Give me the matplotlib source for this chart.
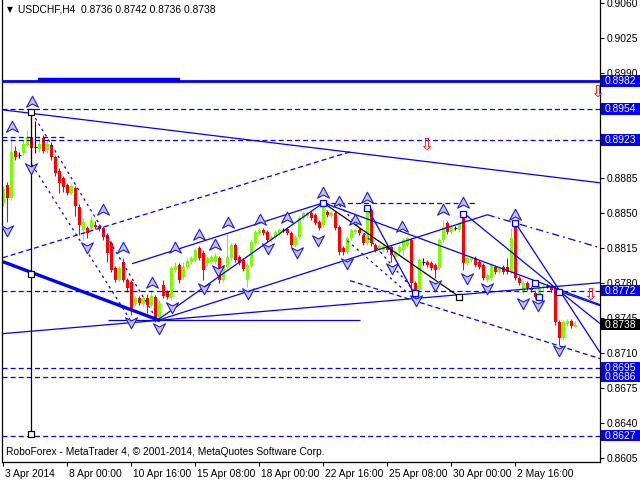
import matplotlib
matplotlib.use('Agg')
import matplotlib.pyplot as plt
from matplotlib.path import Path
from matplotlib.patches import Rectangle
from matplotlib.transforms import blended_transform_factory, ScaledTranslation

plt.rcParams['font.family'] = ['Liberation Sans', 'DejaVu Sans']

# ---------------- data (USDCHF H4, bars from 3 Apr 2014 08:00) ----------------
opens = [0.8860, 0.8878, 0.8865, 0.8912, 0.8908, 0.8910, 0.8918, 0.8926, 0.8916, 0.8914,
         0.8925, 0.8913, 0.8918, 0.8906, 0.8892, 0.8885, 0.8878, 0.8870, 0.8875, 0.8856,
         0.8833, 0.8835, 0.8835, 0.8838, 0.8837, 0.8835, 0.8828, 0.8820, 0.8795, 0.8783,
         0.8801, 0.8783, 0.8781, 0.8759, 0.8765, 0.8759, 0.8765, 0.8758, 0.8766, 0.8745,
         0.8778, 0.8771, 0.8765, 0.8793, 0.8798, 0.8786, 0.8796, 0.8801, 0.8803, 0.8815,
         0.8810, 0.8800, 0.8801, 0.8801, 0.8805, 0.8783, 0.8796, 0.8805, 0.8818, 0.8806,
         0.8803, 0.8783, 0.8798, 0.8820, 0.8830, 0.8833, 0.8831, 0.8823, 0.8826, 0.8830,
         0.8833, 0.8834, 0.8830, 0.8818, 0.8826, 0.8845, 0.8847, 0.8850, 0.8848, 0.8841,
         0.8838, 0.8851, 0.8847, 0.8850, 0.8836, 0.8815, 0.8811, 0.8825, 0.8831, 0.8833,
         0.8828, 0.8820, 0.8853, 0.8818, 0.8813, 0.8813, 0.8817, 0.8816, 0.8806, 0.8811,
         0.8813, 0.8818, 0.8823, 0.8780, 0.8773, 0.8801, 0.8801, 0.8800, 0.8798, 0.8795,
         0.8823, 0.8840, 0.8831, 0.8835, 0.8833, 0.8848, 0.8800, 0.8803, 0.8805, 0.8801,
         0.8798, 0.8783, 0.8785, 0.8796, 0.8791, 0.8796, 0.8796, 0.8791, 0.8838, 0.8785,
         0.8771, 0.8780, 0.8775, 0.8770, 0.8765, 0.8775, 0.8777, 0.8777, 0.8775, 0.8741,
         0.8725, 0.8739, 0.8742, 0.8736]
highs = [0.8877, 0.8881, 0.8925, 0.8917, 0.8911, 0.8923, 0.8933, 0.8952, 0.8942, 0.8925,
         0.8928, 0.8923, 0.8921, 0.8908, 0.8895, 0.8887, 0.8880, 0.8879, 0.8877, 0.8859,
         0.8845, 0.8837, 0.8847, 0.8842, 0.8839, 0.8837, 0.8830, 0.8822, 0.8797, 0.8797,
         0.8805, 0.8785, 0.8783, 0.8767, 0.8767, 0.8767, 0.8769, 0.8773, 0.8768, 0.8763,
         0.8783, 0.8773, 0.8797, 0.8801, 0.8800, 0.8801, 0.8805, 0.8807, 0.8815, 0.8817,
         0.8813, 0.8807, 0.8808, 0.8810, 0.8807, 0.8798, 0.8830, 0.8820, 0.8820, 0.8808,
         0.8805, 0.8800, 0.8823, 0.8833, 0.8835, 0.8835, 0.8833, 0.8828, 0.8833, 0.8835,
         0.8835, 0.8836, 0.8832, 0.8828, 0.8847, 0.8852, 0.8852, 0.8852, 0.8850, 0.8843,
         0.8860, 0.8853, 0.8852, 0.8852, 0.8838, 0.8817, 0.8827, 0.8835, 0.8835, 0.8835,
         0.8830, 0.8856, 0.8855, 0.8820, 0.8819, 0.8819, 0.8819, 0.8818, 0.8813, 0.8818,
         0.8825, 0.8827, 0.8825, 0.8782, 0.8805, 0.8805, 0.8803, 0.8802, 0.8800, 0.8825,
         0.8843, 0.8842, 0.8838, 0.8837, 0.8842, 0.8850, 0.8807, 0.8807, 0.8807, 0.8803,
         0.8800, 0.8790, 0.8800, 0.8798, 0.8797, 0.8798, 0.8805, 0.8835, 0.8840, 0.8787,
         0.8782, 0.8782, 0.8777, 0.8772, 0.8778, 0.8779, 0.8779, 0.8779, 0.8778, 0.8743,
         0.8743, 0.8744, 0.8744, 0.8742]
lows = [0.8857, 0.8841, 0.8863, 0.8903, 0.8905, 0.8908, 0.8916, 0.8898, 0.8910, 0.8911,
        0.8910, 0.8910, 0.8903, 0.8887, 0.8870, 0.8871, 0.8868, 0.8868, 0.8847, 0.8828,
        0.8823, 0.8825, 0.8833, 0.8834, 0.8832, 0.8823, 0.8801, 0.8791, 0.8781, 0.8781,
        0.8781, 0.8771, 0.8748, 0.8757, 0.8758, 0.8757, 0.8750, 0.8756, 0.8741, 0.8742,
        0.8765, 0.8764, 0.8763, 0.8791, 0.8780, 0.8784, 0.8794, 0.8799, 0.8801, 0.8803,
        0.8783, 0.8797, 0.8799, 0.8799, 0.8780, 0.8781, 0.8794, 0.8803, 0.8801, 0.8798,
        0.8792, 0.8776, 0.8796, 0.8818, 0.8828, 0.8828, 0.8821, 0.8821, 0.8824, 0.8828,
        0.8831, 0.8828, 0.8816, 0.8816, 0.8824, 0.8843, 0.8845, 0.8843, 0.8838, 0.8833,
        0.8836, 0.8846, 0.8845, 0.8833, 0.8808, 0.8808, 0.8809, 0.8823, 0.8829, 0.8828,
        0.8818, 0.8818, 0.8817, 0.8811, 0.8811, 0.8811, 0.8811, 0.8801, 0.8804, 0.8809,
        0.8808, 0.8816, 0.8773, 0.8765, 0.8771, 0.8798, 0.8796, 0.8793, 0.8785, 0.8793,
        0.8821, 0.8829, 0.8829, 0.8833, 0.8831, 0.8793, 0.8798, 0.8801, 0.8796, 0.8794,
        0.8783, 0.8781, 0.8783, 0.8789, 0.8789, 0.8789, 0.8789, 0.8789, 0.8783, 0.8778,
        0.8769, 0.8773, 0.8771, 0.8764, 0.8763, 0.8773, 0.8775, 0.8771, 0.8738, 0.8718,
        0.8723, 0.8737, 0.8735, 0.8736]
closes = [0.8874, 0.8865, 0.8911, 0.8906, 0.8908, 0.8919, 0.8926, 0.8915, 0.8916, 0.8919,
          0.8912, 0.8919, 0.8906, 0.8890, 0.8880, 0.8876, 0.8870, 0.8877, 0.8857, 0.8838,
          0.8841, 0.8830, 0.8843, 0.8836, 0.8835, 0.8826, 0.8810, 0.8793, 0.8783, 0.8795,
          0.8783, 0.8775, 0.8753, 0.8765, 0.8760, 0.8765, 0.8758, 0.8767, 0.8745, 0.8760,
          0.8767, 0.8766, 0.8795, 0.8797, 0.8783, 0.8796, 0.8802, 0.8805, 0.8813, 0.8805,
          0.8793, 0.8805, 0.8806, 0.8807, 0.8783, 0.8796, 0.8806, 0.8818, 0.8803, 0.8800,
          0.8794, 0.8798, 0.8821, 0.8831, 0.8833, 0.8830, 0.8823, 0.8826, 0.8831, 0.8833,
          0.8833, 0.8830, 0.8818, 0.8826, 0.8845, 0.8850, 0.8850, 0.8845, 0.8840, 0.8835,
          0.8858, 0.8848, 0.8850, 0.8835, 0.8811, 0.8811, 0.8825, 0.8833, 0.8833, 0.8830,
          0.8820, 0.8853, 0.8820, 0.8813, 0.8817, 0.8817, 0.8813, 0.8808, 0.8811, 0.8816,
          0.8823, 0.8825, 0.8780, 0.8768, 0.8803, 0.8801, 0.8798, 0.8795, 0.8793, 0.8823,
          0.8836, 0.8831, 0.8836, 0.8835, 0.8840, 0.8800, 0.8805, 0.8805, 0.8798, 0.8796,
          0.8785, 0.8788, 0.8798, 0.8791, 0.8795, 0.8791, 0.8791, 0.8825, 0.8785, 0.8780,
          0.8780, 0.8775, 0.8773, 0.8766, 0.8776, 0.8777, 0.8777, 0.8773, 0.8741, 0.8725,
          0.8741, 0.8742, 0.8737, 0.8738]

x_tick_bars = [0, 16, 32, 48, 64, 80, 96, 112, 128]
x_tick_labels = ['3 Apr 2014', '8 Apr 00:00', '10 Apr 16:00', '15 Apr 08:00', '18 Apr 00:00',
                 '22 Apr 16:00', '25 Apr 08:00', '30 Apr 00:00', '2 May 16:00']
y_ticks = [0.9060, 0.9025, 0.8990, 0.8955, 0.8920, 0.8885, 0.8850, 0.8815, 0.8780,
           0.8745, 0.8710, 0.8675, 0.8640, 0.8605]
y_tick_labels = ['0.9060', '0.9025', '0.8990', '', '', '0.8885', '0.8850', '0.8815', '0.8780',
                 '0.8745', '0.8710', '0.8675', '0.8640', '0.8605']
level_prices = [0.8982, 0.8954, 0.8923, 0.8772, 0.8695, 0.8686, 0.8627]
dashed_levels = [0.8954, 0.8923, 0.8772, 0.8695, 0.8686, 0.8627]
thick_level = 0.8982
last_price = 0.8738
header = 'USDCHF,H4  0.8736 0.8742 0.8736 0.8738'
footer = 'RoboForex - MetaTrader 4, \u00a9 2001-2014, MetaQuotes Software Corp.'

# trend line anchors (bar index, price)
lines_solid = [(-0.1, 0.8953, 149.2, 0.8880), (32.2, 0.8799, 80, 0.8860),
               (38.7, 0.8743, 80, 0.8860), (39.2, 0.8743, 121, 0.8848),
               (-0.1, 0.8729, 149.2, 0.8780), (80, 0.8860, 149.2, 0.8758),
               (91, 0.8855, 103, 0.8767), (115, 0.8850, 139.2, 0.8771),
               (128, 0.8840, 149.2, 0.8710), (139.2, 0.8771, 149.2, 0.8757),
               (139.2, 0.8771, 149.2, 0.8739), (26.2, 0.8743, 89.2, 0.8743)]
lines_thick = [(-0.1, 0.8801, 39.2, 0.8742)]
lines_dashed = [(-0.1, 0.8805, 86.7, 0.8911), (80, 0.8860, 118.4, 0.8860),
                (86.7, 0.8782, 149.2, 0.8704), (-0.3, 0.8926, 16, 0.8926)]
lines_dotted = [(7.2, 0.8950, 38.7, 0.8741), (7.2, 0.8898, 31.7, 0.8743),
                (84, 0.8858, 104, 0.8766), (86, 0.8822, 101, 0.8770)]
lines_dashdot = [(121, 0.8848, 149.2, 0.8815)]
lines_black = [(80, 0.8860, 114, 0.8766), (7, 0.8952, 7, 0.8629)]

up_arrows = [(7.2, 0.8961), (2.2, 0.8936), (24.9, 0.8853), (29.9, 0.8815), (37.2, 0.8780),
             (42.9, 0.8815), (48.9, 0.8828), (52.9, 0.8818), (56.2, 0.8840), (64.2, 0.8843),
             (70.9, 0.8845), (79.9, 0.8870), (83.9, 0.8861), (87.9, 0.8843), (90.9, 0.8865),
             (99.7, 0.8836), (109.9, 0.8853), (114.9, 0.8860), (127.9, 0.8848)]
down_arrows = [(0.9, 0.8833), (6.9, 0.8895), (20.9, 0.8816), (31.9, 0.8741), (38.9, 0.8735),
               (42.2, 0.8756), (50.2, 0.8775), (53.7, 0.8793), (61.2, 0.8770), (66.2, 0.8815),
               (73.4, 0.8811), (78.7, 0.8823), (85.9, 0.8800), (97.2, 0.8795), (103.2, 0.8763),
               (107.9, 0.8778), (115.9, 0.8785), (120.9, 0.8775), (129.9, 0.8760),
               (133.7, 0.8758), (138.9, 0.8713)]
red_arrows = [(105.7, 0.8918), (148.4, 0.8971), (146.7, 0.8768)]
blue_squares = [(80, 0.8860), (91, 0.8855), (103, 0.8770), (115, 0.8849), (128, 0.8840),
                (132.9, 0.8780), (133.9, 0.8766), (138.9, 0.8771)]
black_squares = [(7, 0.8951), (7, 0.8789), (7, 0.8629), (114, 0.8766)]

# ---------------- drawing ----------------
BLUE = '#0000ff'
GREEN = '#7cfc00'
RED = '#ff0000'
FS = 7.4

fig = plt.figure(figsize=(6.4, 4.8), dpi=100)
fig.patch.set_facecolor('white')
ax = fig.add_axes([2 / 640, 18 / 480, 598 / 640, 462 / 480])
ax.set_xlim(-0.33, 149.18)
ax.set_ylim(0.86005, 0.90630)

# candles
for i in range(len(opens)):
    o, h, l, c = opens[i], highs[i], lows[i], closes[i]
    if c > o:
        col = GREEN
    elif c < o:
        col = RED
    else:
        col = 'black'
    ax.vlines(i, l, h, color=col, lw=0.8, zorder=2)
    if c == o:
        ax.hlines(o, i - 0.4, i + 0.4, color='black', lw=0.8, zorder=2)
    else:
        ax.bar(i, c - o, bottom=o, width=0.78, color=col, edgecolor='none', zorder=2)

# horizontal levels
ax.axhline(thick_level, color=BLUE, lw=2.0, zorder=3)
ax.hlines(thick_level + 0.0001, 8.7, 44.2, color=BLUE, lw=3.2, zorder=3)
for p in dashed_levels:
    ax.axhline(p, color=BLUE, lw=0.9, dashes=(4, 2.5), zorder=3)


def draw(seg_list, **kw):
    for b1, p1, b2, p2 in seg_list:
        ax.plot([b1, b2], [p1, p2], solid_capstyle='butt', zorder=3, **kw)


draw(lines_solid, color=BLUE, lw=0.9)
draw(lines_thick, color=BLUE, lw=2.4)
draw(lines_dashed, color=BLUE, lw=0.9, dashes=(4, 2.5))
draw(lines_dotted, color=BLUE, lw=0.9, dashes=(2, 3))
draw(lines_dashdot, color=BLUE, lw=0.9, dashes=(6, 3, 1.5, 3))
draw(lines_black, color='black', lw=0.9)

# markers
up_path = Path([(0, 1), (0.95, -0.75), (0, -0.25), (-0.95, -0.75), (0, 1)],
               [Path.MOVETO, Path.LINETO, Path.LINETO, Path.LINETO, Path.CLOSEPOLY])
down_path = Path([(0, -1), (0.95, 0.75), (0, 0.25), (-0.95, 0.75), (0, -1)],
                 [Path.MOVETO, Path.LINETO, Path.LINETO, Path.LINETO, Path.CLOSEPOLY])
ax.plot([a[0] for a in up_arrows], [a[1] for a in up_arrows], ls='none', marker=up_path,
        ms=9, mfc='#c0c0ff', mec='#2020c8', mew=0.8, zorder=5)
ax.plot([a[0] for a in down_arrows], [a[1] for a in down_arrows], ls='none', marker=down_path,
        ms=9, mfc='#c0c0ff', mec='#2020c8', mew=0.8, zorder=5)
ax.plot([s[0] for s in blue_squares], [s[1] for s in blue_squares], ls='none', marker='s',
        ms=5, mfc='white', mec=BLUE, mew=0.9, zorder=5)
ax.plot([s[0] for s in black_squares], [s[1] for s in black_squares], ls='none', marker='s',
        ms=4.5, mfc='white', mec='black', mew=0.9, zorder=5)
for b, p in red_arrows:
    ax.text(b, p, '\u21e9', color=RED, fontsize=12, ha='center', va='center',
            family=['DejaVu Sans'], zorder=5)

# axes styling
ax.spines['top'].set_visible(False)
for side in ['left', 'right', 'bottom']:
    ax.spines[side].set_color('black')
    ax.spines[side].set_linewidth(0.9)

ax.yaxis.tick_right()
ax.set_yticks(y_ticks)
ax.set_yticklabels(y_tick_labels)
ax.tick_params(axis='y', direction='out', length=3, width=0.8, pad=2, labelsize=FS,
               colors='black')
ax.set_xticks(x_tick_bars)
ax.set_xticklabels(x_tick_labels)
ax.tick_params(axis='x', direction='out', length=3, width=0.8, pad=2, labelsize=FS)
offset = ScaledTranslation(2 / 100, 0, fig.dpi_scale_trans)
for lab in ax.get_xticklabels():
    lab.set_ha('left')
    lab.set_transform(lab.get_transform() + offset)

# price boxes on the right axis
trans = blended_transform_factory(ax.transAxes, ax.transData)
box_w = 40 / 598
box_h = 0.00115
for p in level_prices:
    ax.add_patch(Rectangle((1.002, p - box_h / 2), box_w, box_h, transform=trans,
                           facecolor=BLUE, edgecolor='none', clip_on=False, zorder=6))
    ax.text(1.008, p, '%.4f' % p, transform=trans, color='white', fontsize=FS,
            va='center', ha='left', clip_on=False, zorder=7)
ax.add_patch(Rectangle((1.002, last_price - box_h / 2), box_w, box_h, transform=trans,
                       facecolor='black', edgecolor='none', clip_on=False, zorder=6))
ax.text(1.008, last_price, '%.4f' % last_price, transform=trans, color='white', fontsize=FS,
        va='center', ha='left', clip_on=False, zorder=7)

# header / footer
fig.text(7 / 640, 1 - 10 / 480, '\u25bc', fontsize=5.5, va='center', ha='left', color='black',
         family=['DejaVu Sans'])
fig.text(18 / 640, 1 - 10 / 480, header, fontsize=FS, va='center', ha='left', color='black')
fig.text(6 / 640, 1 - 452 / 480, footer, fontsize=FS, va='center', ha='left', color='black')

fig.savefig('out.png', dpi=100, facecolor='white')
